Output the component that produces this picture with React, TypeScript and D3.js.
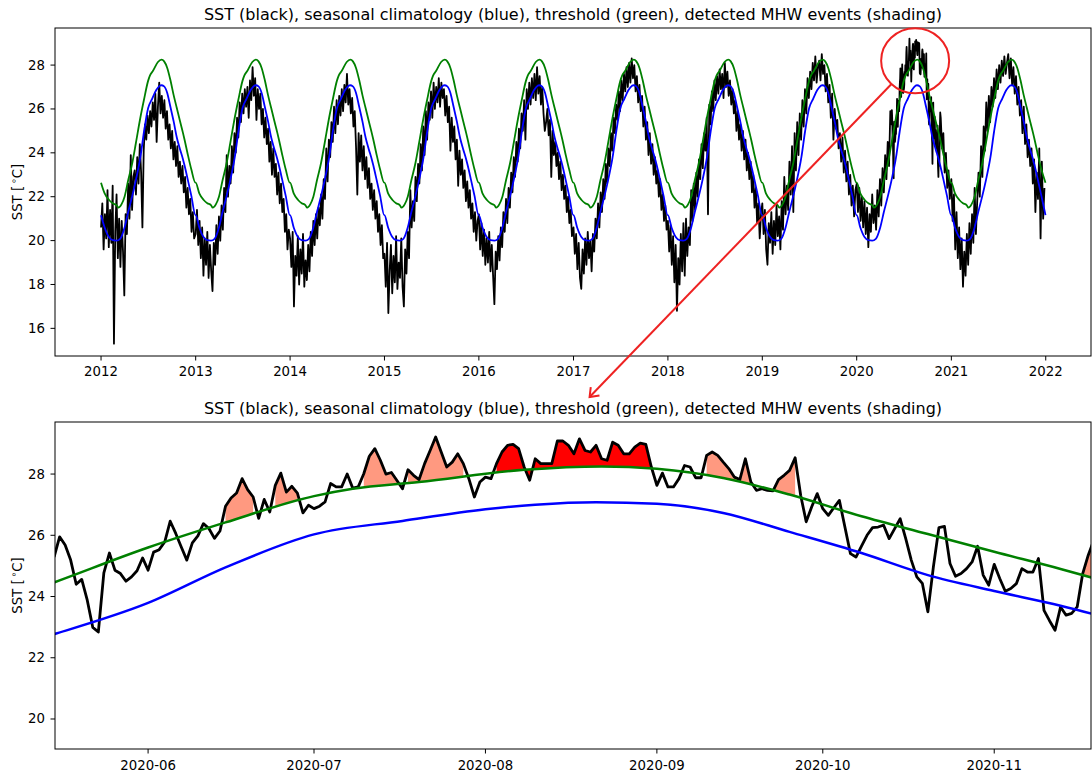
import React from "react";
import * as d3 from "d3";

// ---------- daily SST, five-day readings per year (day 0, 5, 10, ... of each year) ----------
const yearList = [2012, 2013, 2014, 2015, 2016, 2017, 2018, 2019, 2020, 2021];

const sst2012 = [
  20.6, 21.7, 19.6, 21.2, 20.1, 22.3, 19.7, 21.4, 19.9, 22.5,
  15.3, 20.4, 22.1, 19.2, 21.0, 18.8, 20.9, 19.5, 17.5, 21.2,
  20.3, 22.6, 21.0, 23.9, 21.4, 22.9, 23.2, 22.1, 23.8, 22.6,
  24.4, 23.1, 20.6, 24.1, 25.3, 24.6, 25.7, 24.9, 25.9, 25.2,
  26.3, 25.5, 26.7, 24.5, 26.1, 27.2, 25.8, 26.6, 25.6, 26.4,
  25.1, 25.9, 24.6, 25.3, 24.2, 25.0, 23.7, 24.5, 23.4, 24.3,
  22.9, 23.6, 22.6, 23.4, 22.2, 22.9, 21.5, 22.4, 21.2, 21.9,
  20.4, 21.3, 20.1,
];
const sst2013 = [
  20.3, 21.4, 19.8, 20.9, 19.2, 20.6, 18.4, 20.1, 18.9, 20.4,
  18.3, 19.8, 18.6, 17.7, 19.9, 18.9, 20.7, 19.4, 21.1, 20.0,
  21.6, 20.5, 22.4, 21.3, 23.9, 22.0, 23.4, 22.6, 24.3, 23.1,
  24.9, 24.0, 25.6, 24.7, 26.3, 25.4, 26.7, 25.8, 26.9, 26.1,
  27.0, 25.6, 27.3, 26.4, 27.9, 26.6, 27.4, 25.5, 26.9, 26.0,
  26.7, 25.3, 26.0, 24.7, 25.6, 24.4, 25.1, 23.6, 24.5, 23.0,
  24.2, 22.9, 23.5, 22.1, 23.1, 21.7, 22.6, 21.3, 21.9, 20.4,
  21.2, 19.6, 20.5,
];
const sst2014 = [
  20.1, 18.8, 20.4, 17.0, 19.3, 18.4, 20.2, 18.0, 19.6, 18.5,
  20.3, 17.9, 19.1, 18.2, 19.8, 18.6, 20.4, 19.3, 20.9, 19.8,
  21.2, 20.1, 21.5, 20.7, 22.1, 21.0, 22.8, 21.9, 24.2, 22.7,
  24.6, 23.8, 25.4, 24.5, 26.1, 24.9, 26.4, 25.3, 26.6, 25.7,
  26.9, 25.9, 27.1, 26.3, 27.6, 26.2, 26.9, 25.8, 26.5, 25.2,
  25.9, 24.3, 22.1, 24.9, 23.6, 24.8, 23.2, 24.3, 22.8, 23.8,
  22.4, 23.3, 21.9, 22.6, 21.4, 22.3, 21.0, 21.8, 20.4, 21.2,
  19.8, 20.7, 19.2,
];
const sst2015 = [
  19.4, 17.9, 19.9, 16.7, 18.6, 19.8, 17.6, 19.3, 18.1, 20.2,
  17.8, 19.0, 18.3, 20.1, 17.9, 17.0, 19.6, 18.5, 20.4, 19.2,
  22.3, 20.6, 21.8, 20.9, 22.9, 21.8, 23.5, 22.6, 24.4, 23.2,
  25.2, 23.9, 25.9, 24.6, 26.3, 25.5, 26.8, 25.6, 27.2, 26.0,
  27.0, 26.3, 27.4, 26.1, 27.2, 26.5, 26.9, 25.7, 26.6, 25.4,
  26.1, 24.1, 25.6, 24.5, 25.2, 23.7, 24.6, 22.5, 24.1, 23.0,
  23.7, 22.4, 23.2, 21.8, 22.7, 21.5, 22.3, 21.0, 21.7, 20.4,
  21.3, 20.0, 20.9,
];
const sst2016 = [
  21.2, 19.6, 20.8, 19.3, 20.5, 18.9, 20.1, 19.0, 20.4, 18.6,
  19.8, 18.4, 17.1, 19.5, 18.7, 20.2, 19.1, 20.6, 19.7, 21.3,
  20.4, 21.9, 20.8, 22.4, 21.5, 23.1, 22.2, 23.8, 22.9, 24.5,
  23.6, 25.1, 24.2, 25.8, 25.0, 26.4, 24.6, 26.9, 26.0, 27.2,
  26.2, 27.4, 26.5, 27.6, 26.4, 27.9, 26.7, 27.5, 26.2, 27.0,
  25.8, 25.0, 25.4, 26.0, 24.8, 25.5, 22.9, 25.0, 23.9, 24.5,
  23.4, 24.0, 22.8, 23.6, 22.3, 23.0, 21.9, 22.5, 21.3, 22.0,
  20.8, 21.4, 20.2,
];
const sst2017 = [
  20.6, 19.4, 20.3, 18.7, 19.9, 18.3, 17.8, 19.6, 18.5, 20.1,
  18.9, 20.4, 19.2, 20.0, 18.6, 20.3, 19.5, 21.0, 20.1, 21.7,
  20.6, 22.2, 21.3, 22.8, 21.9, 23.5, 22.6, 24.2, 23.4, 24.9,
  24.1, 25.6, 24.9, 26.2, 25.5, 26.8, 25.9, 27.3, 26.4, 27.6,
  26.8, 27.9, 27.0, 28.1, 27.2, 28.3, 27.4, 28.0, 26.8, 27.5,
  26.3, 27.1, 25.9, 26.6, 25.2, 26.1, 24.6, 25.4, 23.9, 24.9,
  23.5, 24.4, 23.0, 23.8, 22.6, 23.2, 22.0, 22.8, 21.4, 22.1,
  20.9, 21.6, 20.5,
];
const sst2018 = [
  20.9, 19.5, 20.7, 18.9, 20.2, 18.1, 19.8, 16.8, 19.2, 18.0,
  20.3, 18.6, 20.8, 18.4, 21.0, 19.3, 20.6, 19.8, 22.3, 20.9,
  22.6, 21.4, 23.1, 22.0, 23.7, 22.8, 24.4, 23.3, 24.9, 24.1,
  25.6, 21.2, 26.2, 25.3, 26.8, 25.9, 27.3, 26.4, 27.5, 26.7,
  27.8, 26.9, 27.6, 26.5, 28.1, 27.0, 27.7, 26.6, 27.3, 26.2,
  26.9, 25.8, 26.4, 25.0, 25.9, 24.6, 25.3, 24.1, 25.0, 23.7,
  24.6, 23.2, 24.0, 22.8, 23.6, 22.2, 23.0, 21.5, 22.4, 20.8,
  21.7, 20.1, 21.2,
];
const sst2019 = [
  21.7, 20.3, 21.4, 19.6, 18.9, 20.8, 19.9, 21.3, 19.4, 20.9,
  19.8, 21.6, 20.2, 21.1, 19.6, 21.8, 20.5, 22.9, 21.2, 22.5,
  21.4, 23.6, 22.1, 24.3, 21.3, 24.9, 23.2, 25.4, 23.9, 25.8,
  24.6, 26.4, 25.2, 26.9, 25.8, 27.4, 26.5, 27.7, 26.9, 28.1,
  27.3, 28.4, 27.2, 27.9, 28.2, 27.3, 28.5, 27.6, 28.0, 26.8,
  27.6, 26.3, 27.1, 25.6, 26.7, 24.6, 26.0, 25.1, 25.5, 24.2,
  24.9, 23.6, 24.7, 23.1, 24.1, 22.7, 23.6, 22.1, 23.0, 21.6,
  22.5, 21.1, 22.3,
];
// 2020: Jan 1 – May 10 and Nov 21 – Dec 26 at five-day steps; the daily record covers the rest
const sst2020Early = [
  22.6, 21.3, 22.4, 20.9, 22.0, 20.6, 21.8, 20.3, 21.5, 19.7,
  21.2, 20.4, 22.1, 20.8, 21.6, 20.5, 22.3, 21.1, 22.8, 21.6,
  23.3, 22.2, 23.9, 22.8, 24.5, 23.4, 25.9,
];
const sst2020LateDoy = 325;
const sst2020Late = [25.6, 24.2, 24.9, 23.1, 24.0, 22.4, 23.2, 21.9];
const sst2021 = [
  22.8, 20.9, 22.1, 19.6, 21.3, 19.2, 20.6, 18.7, 20.1, 17.9,
  19.5, 18.4, 20.3, 18.9, 20.8, 19.4, 21.2, 19.9, 22.4, 20.3,
  21.8, 23.1, 22.0, 24.3, 22.9, 25.2, 24.1, 26.3, 25.0, 26.6,
  25.4, 27.0, 26.1, 27.4, 26.5, 27.8, 26.9, 28.0, 27.2, 28.2,
  27.5, 28.4, 27.6, 28.1, 28.5, 27.4, 28.3, 27.1, 27.9, 26.7,
  27.5, 26.2, 27.0, 25.7, 26.4, 24.9, 26.1, 24.4, 25.3, 23.8,
  24.6, 23.4, 24.2, 22.6, 23.7, 21.3, 23.1, 21.9, 24.2, 20.1,
  23.6, 21.0, 22.4,
];

// ---------- daily SST, 2020-05-15 to 2020-11-19 ----------
const dailyFirstDay = "2020-05-15";
const sstDaily = [
  // May 15–31
  25.29, 25.95, 25.68, 25.19, 24.40, 24.56, 23.88, 22.99, 22.84, 24.77, 25.42, 24.86, 24.75, 24.50, 24.64, 24.84, 25.26,
  // June
  24.86, 25.45, 25.53, 25.78, 26.46, 26.06, 25.62, 25.19, 25.75, 25.98, 26.38, 26.22, 25.90, 26.14, 26.95,
  27.22, 27.38, 27.85, 27.49, 27.25, 26.55, 27.17, 26.76, 27.63, 28.03, 27.41, 27.60, 27.38, 26.73, 26.98,
  // July
  26.87, 26.95, 27.09, 27.69, 27.58, 27.58, 28.00, 27.54, 27.58, 28.01, 28.58, 28.83, 28.45, 28.00, 28.05, 27.79,
  27.52, 28.14, 27.96, 27.82, 28.34, 28.77, 29.21, 28.72, 28.23, 28.39, 28.66, 28.34, 27.85, 27.25, 27.74,
  // August
  27.90, 27.85, 28.34, 28.72, 28.94, 28.97, 28.83, 28.23, 27.80, 28.50, 28.34, 28.34, 28.34, 29.08, 29.08, 28.94,
  28.66, 29.15, 28.77, 28.72, 28.94, 28.50, 28.45, 29.04, 28.94, 28.66, 28.66, 28.88, 29.01, 28.97, 28.23,
  // September
  27.63, 28.03, 27.58, 27.58, 27.85, 28.28, 28.23, 27.88, 27.88, 28.61, 28.72, 28.61, 28.39, 28.18, 27.90,
  27.82, 28.50, 27.74, 27.47, 27.52, 27.47, 27.45, 27.82, 27.96, 28.12, 28.53, 27.31, 26.44, 26.93, 27.36,
  // October
  26.87, 26.65, 26.90, 27.14, 26.27, 25.40, 25.29, 25.65, 26.00, 26.25, 26.27, 26.33, 25.89, 26.22, 26.54, 25.89,
  25.19, 24.64, 24.43, 23.50, 24.97, 26.25, 26.29, 25.08, 24.66, 24.75, 24.91, 25.13, 25.64, 24.70, 24.37,
  // November 1–19
  25.05, 24.59, 24.17, 24.26, 24.42, 24.91, 24.80, 24.80, 25.24, 23.55, 23.21, 22.90, 23.66, 23.39, 23.45, 23.66,
  24.75, 25.35, 25.84,
];

// ---------- seasonal climatology and 90th-percentile threshold (month-day knots) ----------
const climDays = [
  "01-01", "01-15", "02-01", "02-15", "03-01", "03-15", "04-01", "04-15", "05-01", "05-15",
  "06-01", "06-15", "07-01", "07-17", "08-01", "08-10", "08-21", "09-01", "09-13", "09-25",
  "10-08", "10-20", "11-01", "11-13", "11-19", "12-01", "12-15", "12-31",
];
const climValues = [
  21.16, 20.6, 20.15, 20.02, 20.0, 20.08, 20.6, 21.3, 22.05, 22.77,
  23.79, 24.95, 26.03, 26.47, 26.85, 27.0, 27.08, 27.03, 26.73, 26.11,
  25.42, 24.7, 24.18, 23.7, 23.42, 22.8, 22.05, 21.16,
];
const threshDays = [
  "01-01", "01-15", "02-01", "02-15", "03-01", "03-08", "03-20", "04-01", "04-15", "05-01",
  "05-15", "06-01", "06-15", "07-01", "07-08", "07-20", "08-08", "08-22", "09-01", "09-13",
  "09-25", "10-08", "10-20", "11-01", "11-13", "11-19", "12-01", "12-15", "12-31",
];
const threshValues = [
  22.64, 22.15, 21.85, 21.7, 21.62, 21.5, 21.65, 22.0, 22.75, 23.55,
  24.46, 25.6, 26.42, 27.28, 27.52, 27.74, 28.14, 28.25, 28.17, 27.87,
  27.33, 26.62, 26.04, 25.46, 24.9, 24.6, 23.95, 23.25, 22.64,
];

// ---------- detected marine heatwaves inside the zoom window ----------
const eventStarts = ["2020-06-15", "2020-06-24", "2020-07-10", "2020-07-18", "2020-09-10", "2020-09-22", "2020-11-17"];
const eventEnds = ["2020-06-20", "2020-06-28", "2020-07-16", "2020-07-28", "2020-09-18", "2020-09-26", "2020-11-19"];
const peakEventStart = "2020-08-03";
const peakEventEnd = "2020-08-31";

// ---------- axis ticks ----------
const topYearTicks = ["2012", "2013", "2014", "2015", "2016", "2017", "2018", "2019", "2020", "2021", "2022"];
const topValueTicks = [16, 18, 20, 22, 24, 26, 28];
const bottomMonthTicks = ["2020-06", "2020-07", "2020-08", "2020-09", "2020-10", "2020-11"];
const bottomValueTicks = [20, 22, 24, 26, 28];

const titleText =
  "SST (black), seasonal climatology (blue), threshold (green), detected MHW events (shading)";

const FONT = "'DejaVu Sans', 'Liberation Sans', sans-serif";
const W = 1092;
const H = 774;
const TICK_FONT = 13.3;
const TITLE_FONT = 16;

type Pt = { date: Date; v: number };

const topBox = { left: 55, right: 1091, top: 28, bottom: 356 };
const botBox = { left: 55, right: 1091, top: 422, bottom: 749 };

export default function App() {
  const parseDay = d3.timeParse("%Y-%m-%d") as (s: string) => Date;
  const parseMonth = d3.timeParse("%Y-%m") as (s: string) => Date;

  const fiveDay = (year: number, values: number[], startDoy = 0): Pt[] =>
    values.map((v, i) => ({ date: d3.timeDay.offset(new Date(year, 0, 1), startDoy + 5 * i), v }));

  const dailyStart = parseDay(dailyFirstDay);
  const daily: Pt[] = sstDaily.map((v, i) => ({ date: d3.timeDay.offset(dailyStart, i), v }));

  const topSeries: Pt[] = [
    ...fiveDay(2012, sst2012),
    ...fiveDay(2013, sst2013),
    ...fiveDay(2014, sst2014),
    ...fiveDay(2015, sst2015),
    ...fiveDay(2016, sst2016),
    ...fiveDay(2017, sst2017),
    ...fiveDay(2018, sst2018),
    ...fiveDay(2019, sst2019),
    ...fiveDay(2020, sst2020Early),
    ...daily,
    ...fiveDay(2020, sst2020Late, sst2020LateDoy),
    ...fiveDay(2021, sst2021),
  ];

  const seasonal = (years: number[], days: string[], values: number[]): Pt[] =>
    years.flatMap((y) => days.map((md, i) => ({ date: parseDay(`${y}-${md}`), v: values[i] })));

  const climTop = seasonal(yearList, climDays, climValues);
  const threshTop = seasonal(yearList, threshDays, threshValues);
  const clim2020 = seasonal([2020], climDays, climValues);
  const thresh2020 = seasonal([2020], threshDays, threshValues);

  // ---------- scales ----------
  const xTop = d3.scaleTime().domain([new Date(2011, 6, 7), new Date(2022, 5, 25)]).range([topBox.left, topBox.right]);
  const yTop = d3.scaleLinear().domain([14.74, 29.69]).range([topBox.bottom, topBox.top]);
  const xBot = d3
    .scaleTime()
    .domain([new Date(2020, 4, 15, 4), new Date(2020, 10, 18, 12)])
    .range([botBox.left, botBox.right]);
  const yBot = d3.scaleLinear().domain([19.02, 29.7]).range([botBox.bottom, botBox.top]);

  const lineTop = d3.line<Pt>().x((d) => xTop(d.date)).y((d) => yTop(d.v));
  const smoothTop = d3.line<Pt>().x((d) => xTop(d.date)).y((d) => yTop(d.v)).curve(d3.curveMonotoneX);
  const lineBot = d3.line<Pt>().x((d) => xBot(d.date)).y((d) => yBot(d.v));
  const smoothBot = d3.line<Pt>().x((d) => xBot(d.date)).y((d) => yBot(d.v)).curve(d3.curveMonotoneX);

  // regions used to shade between SST and threshold (same as fill_between)
  const sstUnder = d3.area<Pt>().x((d) => xBot(d.date)).y0(H).y1((d) => yBot(d.v))(daily) || "";
  const sstOver = d3.area<Pt>().x((d) => xBot(d.date)).y0(0).y1((d) => yBot(d.v))(daily) || "";
  const thrUnder =
    d3.area<Pt>().x((d) => xBot(d.date)).y0(H).y1((d) => yBot(d.v)).curve(d3.curveMonotoneX)(thresh2020) || "";
  const thrOver =
    d3.area<Pt>().x((d) => xBot(d.date)).y0(0).y1((d) => yBot(d.v)).curve(d3.curveMonotoneX)(thresh2020) || "";

  const shaded = [
    ...eventStarts.map((s, i) => ({ t1: parseDay(s), t2: parseDay(eventEnds[i]), color: "#ff9980" })),
    { t1: parseDay(peakEventStart), t2: parseDay(peakEventEnd), color: "#ff0000" },
  ];

  // ---------- annotation: circle on the 2020 peak, arrow to the zoom panel ----------
  const cx = xTop(new Date(2020, 7, 14));
  const cy = yTop(28.2);
  const rx = 34;
  const ry = 32.5;
  const tipX = xBot(new Date(2020, 7, 19, 20));
  const tipY = botBox.top - 25;
  const ang = Math.atan2(tipY - cy, tipX - cx);
  const startX = cx + rx * Math.cos(ang);
  const startY = cy + ry * Math.sin(ang);
  const back = Math.atan2(startY - tipY, startX - tipX);
  const headLen = 10;
  const arm1 = [tipX + headLen * Math.cos(back + 0.65), tipY + headLen * Math.sin(back + 0.65)];
  const arm2 = [tipX + headLen * Math.cos(back - 0.65), tipY + headLen * Math.sin(back - 0.65)];

  const tickLen = 4.5;
  const tickColor = "#000";

  const yLabel = (cyLabel: number) => (
    <text
      transform={`translate(17,${cyLabel}) rotate(-90)`}
      textAnchor="middle"
      dominantBaseline="central"
      fontSize={TICK_FONT}
      fontFamily={FONT}
      fill="#000"
    >
      SST [
      <tspan dy={-4.5} fontSize={9.3}>
        {"\u2009\u2218"}
      </tspan>
      <tspan dy={4.5}>C]</tspan>
    </text>
  );

  return (
    <svg
      width={W}
      height={H}
      viewBox={`0 0 ${W} ${H}`}
      style={{ position: "absolute", left: 0, top: 0, background: "#fff" }}
      fontFamily={FONT}
    >
      <defs>
        <clipPath id="clipTop">
          <rect x={topBox.left} y={topBox.top} width={topBox.right - topBox.left} height={topBox.bottom - topBox.top} />
        </clipPath>
        <clipPath id="clipBot">
          <rect x={botBox.left} y={botBox.top} width={botBox.right - botBox.left} height={botBox.bottom - botBox.top} />
        </clipPath>
        <clipPath id="aboveThresh">
          <path d={thrOver} />
        </clipPath>
        <clipPath id="aboveSST">
          <path d={sstOver} />
        </clipPath>
        {shaded.map((e, i) => (
          <clipPath id={`span${i}`} key={i}>
            <rect x={xBot(e.t1)} y={0} width={xBot(e.t2) - xBot(e.t1)} height={H} />
          </clipPath>
        ))}
      </defs>

      <rect x={0} y={0} width={W} height={H} fill="#fff" />

      {/* ================= top panel ================= */}
      <text x={(topBox.left + topBox.right) / 2} y={19.5} textAnchor="middle" fontSize={TITLE_FONT} fill="#000">
        {titleText}
      </text>
      <g clipPath="url(#clipTop)">
        <path d={lineTop(topSeries) || ""} fill="none" stroke="#000" strokeWidth={1.8} strokeLinejoin="round" />
        <path d={smoothTop(threshTop) || ""} fill="none" stroke="#008000" strokeWidth={1.8} />
        <path d={smoothTop(climTop) || ""} fill="none" stroke="#0000ff" strokeWidth={1.8} />
      </g>
      <rect
        x={topBox.left}
        y={topBox.top}
        width={topBox.right - topBox.left}
        height={topBox.bottom - topBox.top}
        fill="none"
        stroke="#000"
        strokeWidth={1}
      />
      {topYearTicks.map((t) => {
        const x = xTop(new Date(+t, 0, 1));
        return (
          <g key={t}>
            <line x1={x} x2={x} y1={topBox.bottom} y2={topBox.bottom + tickLen} stroke={tickColor} />
            <text x={x} y={375.5} textAnchor="middle" fontSize={TICK_FONT} fill="#000">
              {t}
            </text>
          </g>
        );
      })}
      {topValueTicks.map((v) => {
        const y = yTop(v);
        return (
          <g key={v}>
            <line x1={topBox.left - tickLen} x2={topBox.left} y1={y} y2={y} stroke={tickColor} />
            <text x={45} y={y} textAnchor="end" dominantBaseline="central" fontSize={TICK_FONT} fill="#000">
              {v}
            </text>
          </g>
        );
      })}
      {yLabel((topBox.top + topBox.bottom) / 2)}

      {/* ================= bottom panel ================= */}
      <text x={(botBox.left + botBox.right) / 2} y={413.5} textAnchor="middle" fontSize={TITLE_FONT} fill="#000">
        {titleText}
      </text>
      <g clipPath="url(#clipBot)">
        {shaded.map((e, i) => (
          <g key={i} clipPath={`url(#span${i})`}>
            <g clipPath="url(#aboveThresh)">
              <path d={sstUnder} fill={e.color} />
            </g>
            <g clipPath="url(#aboveSST)">
              <path d={thrUnder} fill={e.color} />
            </g>
          </g>
        ))}
        <path d={lineBot(daily) || ""} fill="none" stroke="#000" strokeWidth={2.8} strokeLinejoin="round" />
        <path d={smoothBot(thresh2020) || ""} fill="none" stroke="#008000" strokeWidth={2.5} />
        <path d={smoothBot(clim2020) || ""} fill="none" stroke="#0000ff" strokeWidth={2.5} />
      </g>
      <rect
        x={botBox.left}
        y={botBox.top}
        width={botBox.right - botBox.left}
        height={botBox.bottom - botBox.top}
        fill="none"
        stroke="#000"
        strokeWidth={1}
      />
      {bottomMonthTicks.map((t) => {
        const x = xBot(parseMonth(t));
        return (
          <g key={t}>
            <line x1={x} x2={x} y1={botBox.bottom} y2={botBox.bottom + tickLen} stroke={tickColor} />
            <text x={x} y={769.5} textAnchor="middle" fontSize={TICK_FONT} fill="#000">
              {t}
            </text>
          </g>
        );
      })}
      {bottomValueTicks.map((v) => {
        const y = yBot(v);
        return (
          <g key={v}>
            <line x1={botBox.left - tickLen} x2={botBox.left} y1={y} y2={y} stroke={tickColor} />
            <text x={45} y={y} textAnchor="end" dominantBaseline="central" fontSize={TICK_FONT} fill="#000">
              {v}
            </text>
          </g>
        );
      })}
      {yLabel((botBox.top + botBox.bottom) / 2)}

      {/* ================= annotation ================= */}
      <ellipse cx={cx} cy={cy} rx={rx} ry={ry} fill="none" stroke="#ee2222" strokeWidth={2} />
      <line x1={startX} y1={startY} x2={tipX} y2={tipY} stroke="#ee2222" strokeWidth={2} />
      <polyline
        points={`${arm1[0]},${arm1[1]} ${tipX},${tipY} ${arm2[0]},${arm2[1]}`}
        fill="none"
        stroke="#ee2222"
        strokeWidth={2}
      />
    </svg>
  );
}
